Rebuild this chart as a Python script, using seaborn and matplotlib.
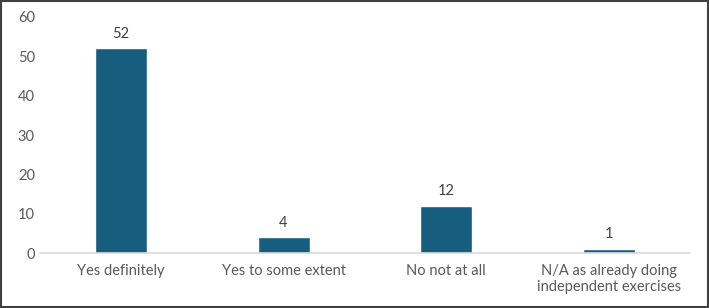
import numpy as np
import pandas as pd
import matplotlib
matplotlib.use("Agg")
import matplotlib.pyplot as plt
import seaborn as sns

categories = ["Yes definitely", "Yes to some extent", "No not at all",
              "N/A as already doing\nindependent exercises"]
counts = [52, 4, 12, 1]
yticks = [0, 10, 20, 30, 40, 50, 60]

df = pd.DataFrame({"answer": categories, "count": counts})

sns.set_style("white")
plt.rcParams['font.family'] = ['Lato', 'DejaVu Sans']

fig = plt.figure(figsize=(7.09, 3.08), dpi=100)
ax = fig.add_axes([0.056, 0.178, 0.917, 0.767])

sns.barplot(data=df, x="answer", y="count", color="#175E7E", width=0.32,
            saturation=1, ax=ax)

for i, v in enumerate(counts):
    ax.text(i, v + 2, str(v), ha="center", va="bottom", fontsize=10.5, color="#404040")

ax.set_ylim(0, 60)
ax.set_yticks(yticks)
ax.set_xlim(-0.5, 3.5)
ax.set_xlabel("")
ax.set_ylabel("")
ax.tick_params(axis="both", colors="#595959", labelsize=10.5, length=0)
ax.tick_params(axis="x", pad=8)
for s in ["top", "right", "left"]:
    ax.spines[s].set_visible(False)
ax.spines["bottom"].set_color("#D9D9D9")
ax.spines["bottom"].set_linewidth(1.2)

fig.patches.append(plt.Rectangle((0.002, 0.003), 0.996, 0.994, transform=fig.transFigure,
                                 fill=False, edgecolor="#404040", linewidth=1.5))

fig.savefig("out.png", dpi=100)
